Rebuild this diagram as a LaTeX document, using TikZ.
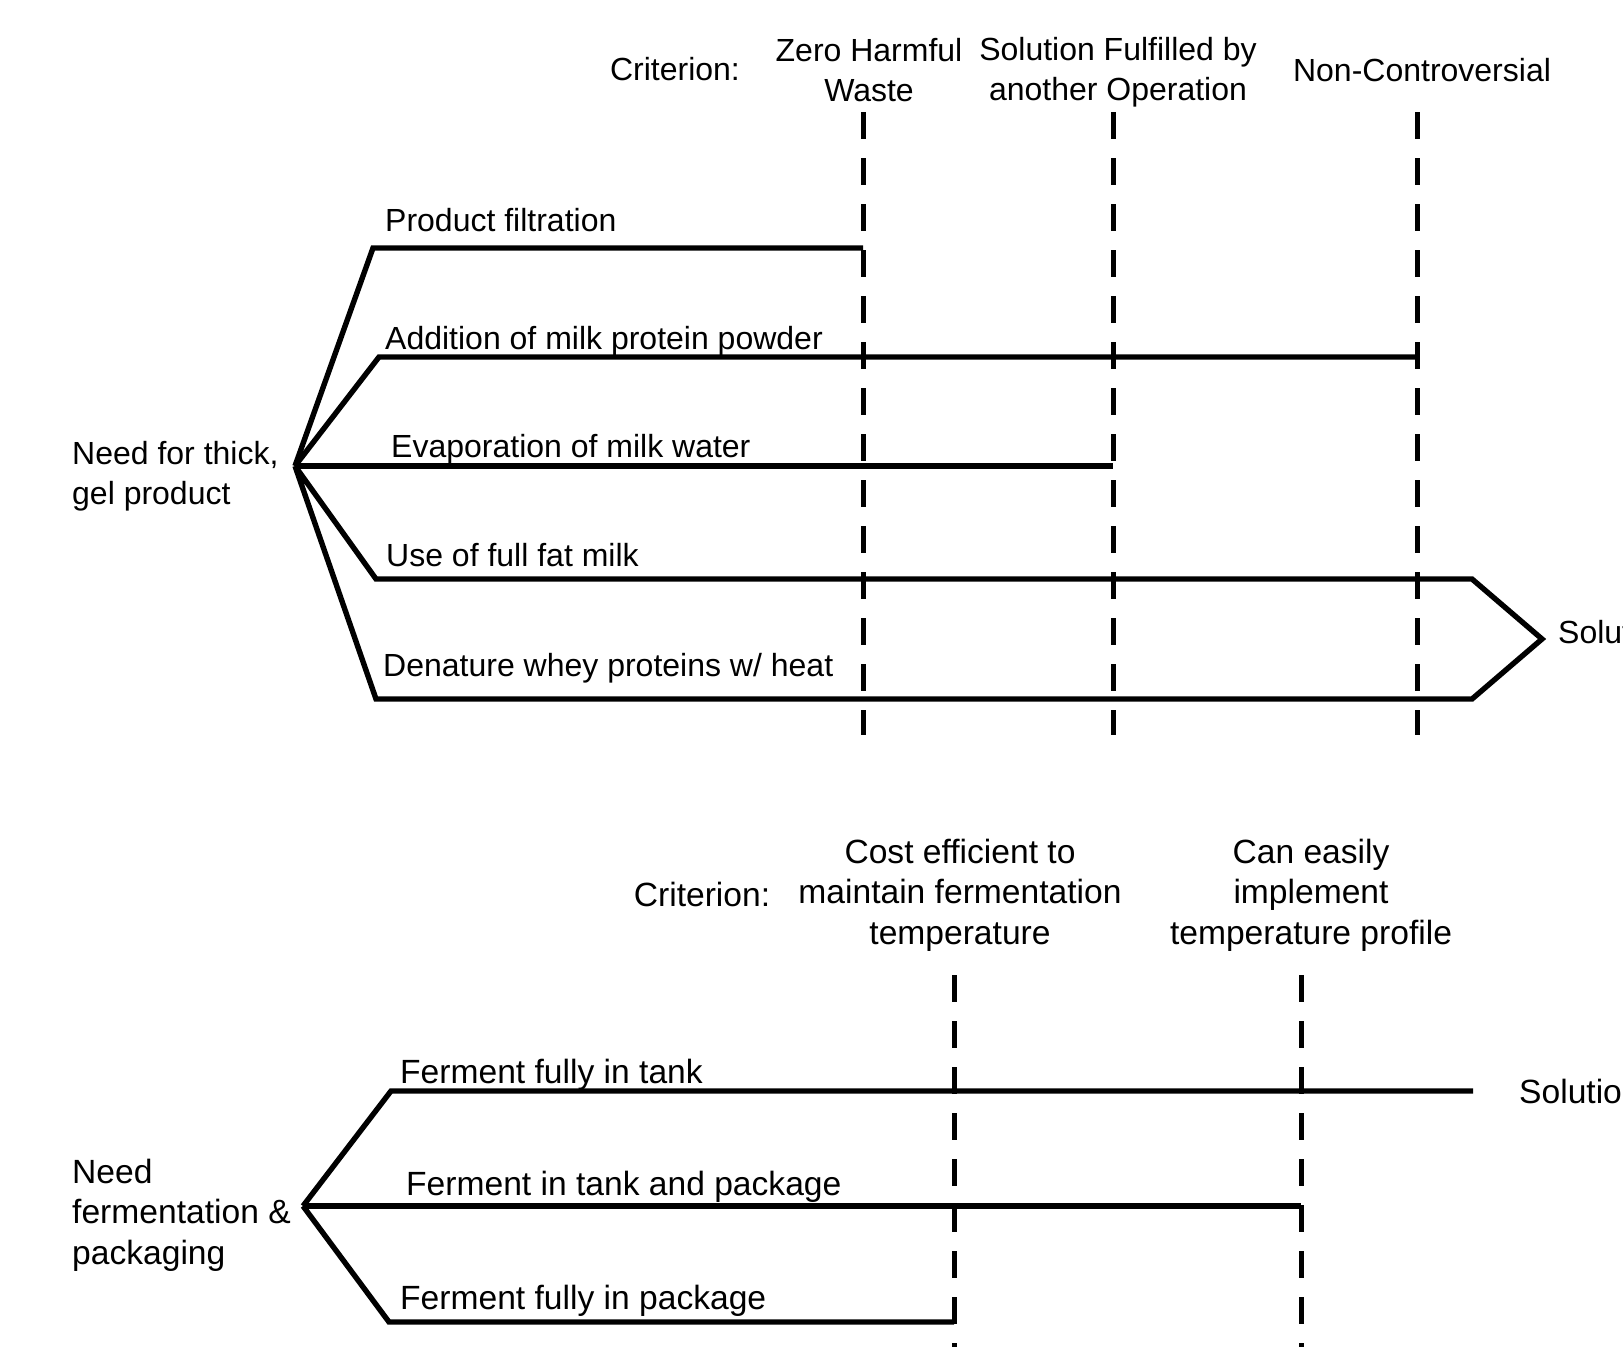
\documentclass[tikz,border=0pt]{standalone}
\usepackage{fontspec}
\setmainfont{Liberation Sans}
\begin{document}
\begin{tikzpicture}[x=1pt,y=-1pt,
  txt/.style={inner sep=0pt,font=\fontsize{32}{39.5}\selectfont},
  txtb/.style={inner sep=0pt,font=\fontsize{33.6}{40.5}\selectfont},
  lbl/.style={txt,anchor=west},
  lblb/.style={txtb,anchor=west},
  branch/.style={line width=5.4pt,line join=miter},
  crit/.style={line width=5pt,dash pattern=on 27pt off 19pt}]
\useasboundingbox (0,0) rectangle (1623,1347);
\clip (0,0) rectangle (1623,1347);
% ---------- top block ----------
\node[txt] (crit1) at (675,69) {Criterion:};
\node[txt,align=center] (c1a) at (869,70) {Zero Harmful\\Waste};
\node[txt,align=center] (c1b) at (1118,72) {Solution Fulfilled by\\another Operation};
\node[txt] (c1c) at (1422,70) {Non-Controversial};
\coordinate (d1t) at (863,112); \coordinate (d1b) at (863,735);
\coordinate (d2t) at (1113,112); \coordinate (d2b) at (1113,735);
\coordinate (d3t) at (1417,112); \coordinate (d3b) at (1417,735);
\draw[crit] (d1t) -- (d1b);
\draw[crit] (d2t) -- (d2b);
\draw[crit] (d3t) -- (d3b);
\node[txt,align=left,anchor=west] (root1) at (72,476) {Need for thick,\\gel product};
\coordinate (r1) at (295,466);
\coordinate (b1s) at (373,248); \coordinate (b1e) at (863,248);
\coordinate (b2s) at (379,357); \coordinate (b2e) at (1417,357);
\coordinate (b3e) at (1113,466);
\coordinate (b4s) at (376,579); \coordinate (b4e) at (1472,579);
\coordinate (b5s) at (376,699); \coordinate (b5e) at (1472,699);
\coordinate (tip) at (1542,639);
\draw[branch] (r1) -- (b1s) -- (b1e);
\draw[branch] (r1) -- (b2s) -- (b2e);
\draw[branch] (r1) -- (b3e);
\draw[branch] (r1) -- (b4s) -- (b4e) -- (tip) -- (b5e) -- (b5s) -- (r1);
\node[lbl] (l1) at (385,220) {Product filtration};
\node[lbl] (l2) at (385,341) {Addition of milk protein powder};
\node[lbl] (l3) at (391,449) {Evaporation of milk water};
\node[lbl] (l4) at (386,555) {Use of full fat milk};
\node[lbl] (l5) at (383,668) {Denature whey proteins w/ heat};
\node[lbl] (sol1) at (1558,632) {Solution};
% ---------- bottom block ----------
\node[txtb] (crit2) at (702,894) {Criterion:};
\node[txtb,align=center] (c2a) at (960,895) {Cost efficient to\\maintain fermentation\\temperature};
\node[txtb,align=center] (c2b) at (1311,895) {Can easily\\implement\\temperature profile};
\coordinate (e1t) at (954,975); \coordinate (e1b) at (954,1347);
\coordinate (e2t) at (1301,975); \coordinate (e2b) at (1301,1347);
\draw[crit] (e1t) -- (e1b);
\draw[crit] (e2t) -- (e2b);
\node[txtb,align=left,anchor=west] (root2) at (72,1215) {Need\\fermentation \&\\packaging};
\coordinate (r2) at (303,1206);
\coordinate (f1s) at (391,1091); \coordinate (f1e) at (1473,1091);
\coordinate (f2e) at (1301,1206);
\coordinate (f3s) at (389,1322); \coordinate (f3e) at (954,1322);
\draw[branch] (r2) -- (f1s) -- (f1e);
\draw[branch] (r2) -- (f2e);
\draw[branch] (r2) -- (f3s) -- (f3e);
\node[lblb] (m1) at (400,1075) {Ferment fully in tank};
\node[lblb] (m2) at (406,1187) {Ferment in tank and package};
\node[lblb] (m3) at (400,1301) {Ferment fully in package};
\node[lblb] (sol2) at (1519,1091) {Solution};
\end{tikzpicture}
\end{document}
